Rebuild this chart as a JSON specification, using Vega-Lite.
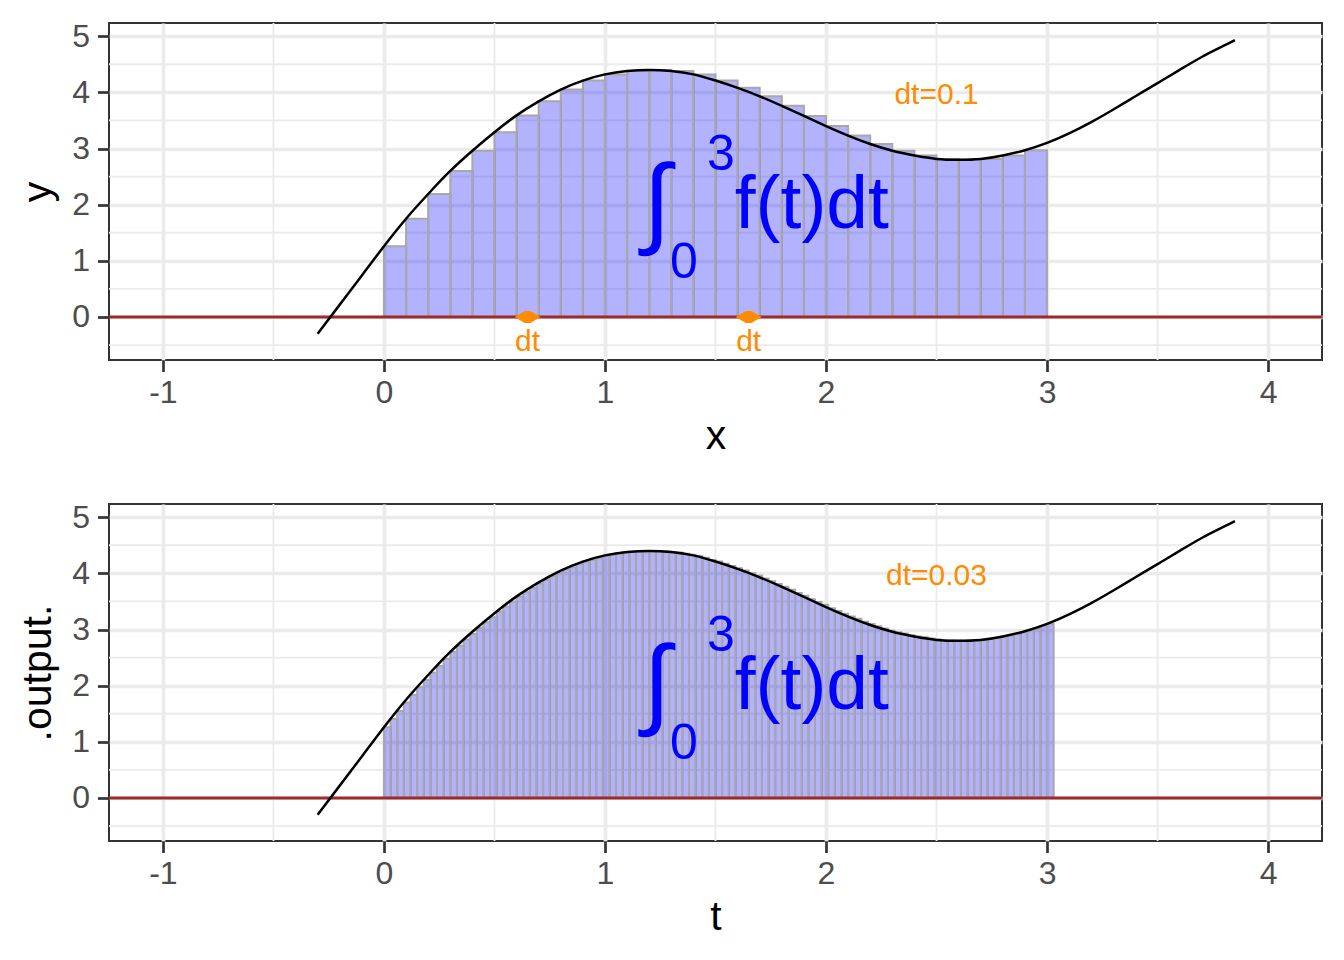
{
  "$schema": "https://vega.github.io/schema/vega-lite/v6.json",
  "padding": {"left": 16, "top": 19, "right": 20, "bottom": 10},
  "spacing": 43,
  "config": {
    "font": "Liberation Sans",
    "view": {"stroke": "#333333", "strokeWidth": 2},
    "axis": {
      "domain": false, "grid": true, "gridColor": "#EBEBEB", "gridWidth": 3.7,
      "ticks": true, "tickColor": "#333333", "tickSize": 11.5, "tickWidth": 2.7,
      "labelFont": "Liberation Sans", "labelFontSize": 32, "labelColor": "#4D4D4D",
      "titleFont": "Liberation Sans", "titleFontSize": 41, "titleFontWeight": "normal", "titleColor": "#000000"
    },
    "axisX": {"labelPadding": 6, "titlePadding": 7.5},
    "axisY": {"labelPadding": 8, "titlePadding": 12}
  },
  "datasets": {
    "minorX": [{"x": -0.5}, {"x": 0.5}, {"x": 1.5}, {"x": 2.5}, {"x": 3.5}],
    "minorY": [{"y": -0.5}, {"y": 0.5}, {"y": 1.5}, {"y": 2.5}, {"y": 3.5}, {"y": 4.5}],
    "curve": [
      {"x": -0.3, "y": -0.3}, {"x": -0.2, "y": 0.22}, {"x": -0.1, "y": 0.74}, {"x": 0, "y": 1.26},
      {"x": 0.1, "y": 1.75}, {"x": 0.2, "y": 2.19}, {"x": 0.3, "y": 2.6}, {"x": 0.4, "y": 2.96},
      {"x": 0.5, "y": 3.29}, {"x": 0.6, "y": 3.59}, {"x": 0.7, "y": 3.84}, {"x": 0.8, "y": 4.05},
      {"x": 0.9, "y": 4.21}, {"x": 1.0, "y": 4.32}, {"x": 1.1, "y": 4.38}, {"x": 1.2, "y": 4.4},
      {"x": 1.3, "y": 4.38}, {"x": 1.4, "y": 4.32}, {"x": 1.5, "y": 4.21}, {"x": 1.6, "y": 4.08},
      {"x": 1.7, "y": 3.93}, {"x": 1.8, "y": 3.76}, {"x": 1.9, "y": 3.58}, {"x": 2.0, "y": 3.4},
      {"x": 2.1, "y": 3.23}, {"x": 2.2, "y": 3.08}, {"x": 2.3, "y": 2.96}, {"x": 2.4, "y": 2.875},
      {"x": 2.5, "y": 2.815}, {"x": 2.6, "y": 2.8}, {"x": 2.7, "y": 2.815}, {"x": 2.8, "y": 2.875},
      {"x": 2.9, "y": 2.97}, {"x": 3.0, "y": 3.1}, {"x": 3.1, "y": 3.27}, {"x": 3.2, "y": 3.47},
      {"x": 3.3, "y": 3.695}, {"x": 3.4, "y": 3.93}, {"x": 3.5, "y": 4.165}, {"x": 3.6, "y": 4.4},
      {"x": 3.7, "y": 4.63}, {"x": 3.8, "y": 4.83}, {"x": 3.85, "y": 4.93}
    ],
    "bars1": [
      {"t": 0, "t_end": 0.1, "f": 1.26}, {"t": 0.1, "t_end": 0.2, "f": 1.75}, {"t": 0.2, "t_end": 0.3, "f": 2.19},
      {"t": 0.3, "t_end": 0.4, "f": 2.6}, {"t": 0.4, "t_end": 0.5, "f": 2.96}, {"t": 0.5, "t_end": 0.6, "f": 3.29},
      {"t": 0.6, "t_end": 0.7, "f": 3.59}, {"t": 0.7, "t_end": 0.8, "f": 3.84}, {"t": 0.8, "t_end": 0.9, "f": 4.05},
      {"t": 0.9, "t_end": 1.0, "f": 4.21}, {"t": 1.0, "t_end": 1.1, "f": 4.32}, {"t": 1.1, "t_end": 1.2, "f": 4.38},
      {"t": 1.2, "t_end": 1.3, "f": 4.4}, {"t": 1.3, "t_end": 1.4, "f": 4.38}, {"t": 1.4, "t_end": 1.5, "f": 4.32},
      {"t": 1.5, "t_end": 1.6, "f": 4.21}, {"t": 1.6, "t_end": 1.7, "f": 4.08}, {"t": 1.7, "t_end": 1.8, "f": 3.93},
      {"t": 1.8, "t_end": 1.9, "f": 3.76}, {"t": 1.9, "t_end": 2.0, "f": 3.58}, {"t": 2.0, "t_end": 2.1, "f": 3.4},
      {"t": 2.1, "t_end": 2.2, "f": 3.23}, {"t": 2.2, "t_end": 2.3, "f": 3.08}, {"t": 2.3, "t_end": 2.4, "f": 2.96},
      {"t": 2.4, "t_end": 2.5, "f": 2.875}, {"t": 2.5, "t_end": 2.6, "f": 2.815}, {"t": 2.6, "t_end": 2.7, "f": 2.8},
      {"t": 2.7, "t_end": 2.8, "f": 2.815}, {"t": 2.8, "t_end": 2.9, "f": 2.875}, {"t": 2.9, "t_end": 3.0, "f": 2.97}
    ],
    "bars2": [
      {"t": 0.00, "t_end": 0.03, "f": 1.26}, {"t": 0.03, "t_end": 0.06, "f": 1.41}, {"t": 0.06, "t_end": 0.09, "f": 1.55},
      {"t": 0.09, "t_end": 0.12, "f": 1.70}, {"t": 0.12, "t_end": 0.15, "f": 1.84}, {"t": 0.15, "t_end": 0.18, "f": 1.97},
      {"t": 0.18, "t_end": 0.21, "f": 2.10}, {"t": 0.21, "t_end": 0.24, "f": 2.23}, {"t": 0.24, "t_end": 0.27, "f": 2.35},
      {"t": 0.27, "t_end": 0.30, "f": 2.48}, {"t": 0.30, "t_end": 0.33, "f": 2.60}, {"t": 0.33, "t_end": 0.36, "f": 2.71},
      {"t": 0.36, "t_end": 0.39, "f": 2.82}, {"t": 0.39, "t_end": 0.42, "f": 2.92}, {"t": 0.42, "t_end": 0.45, "f": 3.03},
      {"t": 0.45, "t_end": 0.48, "f": 3.13}, {"t": 0.48, "t_end": 0.51, "f": 3.22}, {"t": 0.51, "t_end": 0.54, "f": 3.32},
      {"t": 0.54, "t_end": 0.57, "f": 3.41}, {"t": 0.57, "t_end": 0.60, "f": 3.50}, {"t": 0.60, "t_end": 0.63, "f": 3.59},
      {"t": 0.63, "t_end": 0.66, "f": 3.67}, {"t": 0.66, "t_end": 0.69, "f": 3.74}, {"t": 0.69, "t_end": 0.72, "f": 3.82},
      {"t": 0.72, "t_end": 0.75, "f": 3.88}, {"t": 0.75, "t_end": 0.78, "f": 3.95}, {"t": 0.78, "t_end": 0.81, "f": 4.01},
      {"t": 0.81, "t_end": 0.84, "f": 4.07}, {"t": 0.84, "t_end": 0.87, "f": 4.11}, {"t": 0.87, "t_end": 0.90, "f": 4.16},
      {"t": 0.90, "t_end": 0.93, "f": 4.21}, {"t": 0.93, "t_end": 0.96, "f": 4.24}, {"t": 0.96, "t_end": 0.99, "f": 4.28},
      {"t": 0.99, "t_end": 1.02, "f": 4.31}, {"t": 1.02, "t_end": 1.05, "f": 4.33}, {"t": 1.05, "t_end": 1.08, "f": 4.35},
      {"t": 1.08, "t_end": 1.11, "f": 4.37}, {"t": 1.11, "t_end": 1.14, "f": 4.38}, {"t": 1.14, "t_end": 1.17, "f": 4.39},
      {"t": 1.17, "t_end": 1.20, "f": 4.40}, {"t": 1.20, "t_end": 1.23, "f": 4.40}, {"t": 1.23, "t_end": 1.26, "f": 4.40},
      {"t": 1.26, "t_end": 1.29, "f": 4.39}, {"t": 1.29, "t_end": 1.32, "f": 4.38}, {"t": 1.32, "t_end": 1.35, "f": 4.37},
      {"t": 1.35, "t_end": 1.38, "f": 4.35}, {"t": 1.38, "t_end": 1.41, "f": 4.33}, {"t": 1.41, "t_end": 1.44, "f": 4.31},
      {"t": 1.44, "t_end": 1.47, "f": 4.28}, {"t": 1.47, "t_end": 1.50, "f": 4.24}, {"t": 1.50, "t_end": 1.53, "f": 4.21},
      {"t": 1.53, "t_end": 1.56, "f": 4.17}, {"t": 1.56, "t_end": 1.59, "f": 4.13}, {"t": 1.59, "t_end": 1.62, "f": 4.09},
      {"t": 1.62, "t_end": 1.65, "f": 4.05}, {"t": 1.65, "t_end": 1.68, "f": 4.00}, {"t": 1.68, "t_end": 1.71, "f": 3.96},
      {"t": 1.71, "t_end": 1.74, "f": 3.91}, {"t": 1.74, "t_end": 1.77, "f": 3.86}, {"t": 1.77, "t_end": 1.80, "f": 3.81},
      {"t": 1.80, "t_end": 1.83, "f": 3.76}, {"t": 1.83, "t_end": 1.86, "f": 3.71}, {"t": 1.86, "t_end": 1.89, "f": 3.65},
      {"t": 1.89, "t_end": 1.92, "f": 3.60}, {"t": 1.92, "t_end": 1.95, "f": 3.54}, {"t": 1.95, "t_end": 1.98, "f": 3.49},
      {"t": 1.98, "t_end": 2.01, "f": 3.44}, {"t": 2.01, "t_end": 2.04, "f": 3.38}, {"t": 2.04, "t_end": 2.07, "f": 3.33},
      {"t": 2.07, "t_end": 2.10, "f": 3.28}, {"t": 2.10, "t_end": 2.13, "f": 3.23}, {"t": 2.13, "t_end": 2.16, "f": 3.19},
      {"t": 2.16, "t_end": 2.19, "f": 3.14}, {"t": 2.19, "t_end": 2.22, "f": 3.10}, {"t": 2.22, "t_end": 2.25, "f": 3.06},
      {"t": 2.25, "t_end": 2.28, "f": 3.02}, {"t": 2.28, "t_end": 2.31, "f": 2.98}, {"t": 2.31, "t_end": 2.34, "f": 2.95},
      {"t": 2.34, "t_end": 2.37, "f": 2.93}, {"t": 2.37, "t_end": 2.40, "f": 2.90}, {"t": 2.40, "t_end": 2.43, "f": 2.875},
      {"t": 2.43, "t_end": 2.46, "f": 2.86}, {"t": 2.46, "t_end": 2.49, "f": 2.84}, {"t": 2.49, "t_end": 2.52, "f": 2.82},
      {"t": 2.52, "t_end": 2.55, "f": 2.81}, {"t": 2.55, "t_end": 2.58, "f": 2.805}, {"t": 2.58, "t_end": 2.61, "f": 2.80},
      {"t": 2.61, "t_end": 2.64, "f": 2.80}, {"t": 2.64, "t_end": 2.67, "f": 2.80}, {"t": 2.67, "t_end": 2.70, "f": 2.81},
      {"t": 2.70, "t_end": 2.73, "f": 2.815}, {"t": 2.73, "t_end": 2.76, "f": 2.83}, {"t": 2.76, "t_end": 2.79, "f": 2.85},
      {"t": 2.79, "t_end": 2.82, "f": 2.87}, {"t": 2.82, "t_end": 2.85, "f": 2.89}, {"t": 2.85, "t_end": 2.88, "f": 2.92},
      {"t": 2.88, "t_end": 2.91, "f": 2.95}, {"t": 2.91, "t_end": 2.94, "f": 2.98}, {"t": 2.94, "t_end": 2.97, "f": 3.02},
      {"t": 2.97, "t_end": 3.00, "f": 3.06}, {"t": 3.00, "t_end": 3.03, "f": 3.10}
    ]
  },
  "vconcat": [
    {
      "width": 1213,
      "height": 337,
      "layer": [
        {
          "data": {"name": "minorX"},
          "mark": {"type": "rule", "color": "#EBEBEB", "strokeWidth": 1.85},
          "encoding": {
            "x": {"field": "x", "type": "quantitative",
              "scale": {"domain": [-1.244, 4.244], "nice": false, "zero": false},
              "axis": {"values": [-1, 0, 1, 2, 3, 4], "title": "x", "labelExpr": "'' + datum.value"}}
          }
        },
        {
          "data": {"name": "minorY"},
          "mark": {"type": "rule", "color": "#EBEBEB", "strokeWidth": 1.85},
          "encoding": {
            "y": {"field": "y", "type": "quantitative",
              "scale": {"domain": [-0.766, 5.235], "nice": false, "zero": false},
              "axis": {"values": [0, 1, 2, 3, 4, 5], "title": "y", "labelExpr": "'' + datum.value"}}
          }
        },
        {
          "data": {"name": "bars1"},
          "mark": {"type": "rect", "fill": "#0000FF", "fillOpacity": 0.3, "stroke": "#A8A8A8", "strokeWidth": 2},
          "encoding": {
            "x": {"field": "t", "type": "quantitative"},
            "x2": {"field": "t_end"},
            "y": {"field": "f", "type": "quantitative"},
            "y2": {"datum": 0}
          }
        },
        {
          "data": {"values": [{}]},
          "mark": {"type": "rule", "color": "#9E2A2B", "strokeWidth": 3},
          "encoding": {"y": {"datum": 0, "type": "quantitative"}}
        },
        {
          "data": {"name": "curve"},
          "mark": {"type": "line", "color": "#000000", "strokeWidth": 2.5, "interpolate": "natural"},
          "encoding": {
            "x": {"field": "x", "type": "quantitative"},
            "y": {"field": "y", "type": "quantitative"}
          }
        },
        {
          "data": {"values": [{"x": 0.65}, {"x": 1.65}]},
          "mark": {"type": "point", "shape": "M-1,0L-0.22,-0.46L0.22,-0.46L1,0L0.22,0.46L-0.22,0.46Z", "size": 676, "filled": true, "color": "#FF8C00", "opacity": 1, "strokeWidth": 0},
          "encoding": {
            "x": {"field": "x", "type": "quantitative"},
            "y": {"datum": 0, "type": "quantitative"}
          }
        },
        {
          "data": {"values": [{"x": 0.65, "label": "dt"}, {"x": 1.65, "label": "dt"}]},
          "mark": {"type": "text", "color": "#FF8C00", "fontSize": 30, "align": "center", "baseline": "alphabetic"},
          "encoding": {
            "x": {"field": "x", "type": "quantitative"},
            "y": {"datum": -0.6, "type": "quantitative"},
            "text": {"field": "label"}
          }
        },
        {
          "data": {"values": [{"label": "dt=0.1"}]},
          "mark": {"type": "text", "color": "#FF8C00", "fontSize": 30, "align": "center", "baseline": "alphabetic"},
          "encoding": {
            "x": {"datum": 2.5, "type": "quantitative"},
            "y": {"datum": 3.8, "type": "quantitative"},
            "text": {"field": "label"}
          }
        },
        {
          "data": {"values": [{"label": "∫"}]},
          "mark": {"type": "text", "color": "#0000FF", "fontSize": 100, "align": "center", "baseline": "middle"},
          "encoding": {
            "x": {"datum": 1.235, "type": "quantitative"},
            "y": {"datum": 2.0, "type": "quantitative"},
            "text": {"field": "label"}
          }
        },
        {
          "data": {"values": [{"label": "3"}]},
          "mark": {"type": "text", "color": "#0000FF", "fontSize": 50, "align": "left", "baseline": "alphabetic"},
          "encoding": {
            "x": {"datum": 1.462, "type": "quantitative"},
            "y": {"datum": 2.62, "type": "quantitative"},
            "text": {"field": "label"}
          }
        },
        {
          "data": {"values": [{"label": "0"}]},
          "mark": {"type": "text", "color": "#0000FF", "fontSize": 50, "align": "left", "baseline": "alphabetic"},
          "encoding": {
            "x": {"datum": 1.294, "type": "quantitative"},
            "y": {"datum": 0.695, "type": "quantitative"},
            "text": {"field": "label"}
          }
        },
        {
          "data": {"values": [{"label": "f(t)dt"}]},
          "mark": {"type": "text", "color": "#0000FF", "fontSize": 75, "align": "left", "baseline": "alphabetic"},
          "encoding": {
            "x": {"datum": 1.587, "type": "quantitative"},
            "y": {"datum": 1.58, "type": "quantitative"},
            "text": {"field": "label"}
          }
        }
      ]
    },
    {
      "width": 1213,
      "height": 337,
      "layer": [
        {
          "data": {"name": "minorX"},
          "mark": {"type": "rule", "color": "#EBEBEB", "strokeWidth": 1.85},
          "encoding": {
            "x": {"field": "x", "type": "quantitative",
              "scale": {"domain": [-1.244, 4.244], "nice": false, "zero": false},
              "axis": {"values": [-1, 0, 1, 2, 3, 4], "title": "t", "labelExpr": "'' + datum.value"}}
          }
        },
        {
          "data": {"name": "minorY"},
          "mark": {"type": "rule", "color": "#EBEBEB", "strokeWidth": 1.85},
          "encoding": {
            "y": {"field": "y", "type": "quantitative",
              "scale": {"domain": [-0.766, 5.235], "nice": false, "zero": false},
              "axis": {"values": [0, 1, 2, 3, 4, 5], "title": ".output.", "labelExpr": "'' + datum.value"}}
          }
        },
        {
          "data": {"name": "bars2"},
          "mark": {"type": "rect", "fill": "#0000FF", "fillOpacity": 0.3, "stroke": "#A8A8A8", "strokeWidth": 2},
          "encoding": {
            "x": {"field": "t", "type": "quantitative"},
            "x2": {"field": "t_end"},
            "y": {"field": "f", "type": "quantitative"},
            "y2": {"datum": 0}
          }
        },
        {
          "data": {"values": [{}]},
          "mark": {"type": "rule", "color": "#9E2A2B", "strokeWidth": 3},
          "encoding": {"y": {"datum": 0, "type": "quantitative"}}
        },
        {
          "data": {"name": "curve"},
          "mark": {"type": "line", "color": "#000000", "strokeWidth": 2.5, "interpolate": "natural"},
          "encoding": {
            "x": {"field": "x", "type": "quantitative"},
            "y": {"field": "y", "type": "quantitative"}
          }
        },
        {
          "data": {"values": [{"label": "dt=0.03"}]},
          "mark": {"type": "text", "color": "#FF8C00", "fontSize": 30, "align": "center", "baseline": "alphabetic"},
          "encoding": {
            "x": {"datum": 2.5, "type": "quantitative"},
            "y": {"datum": 3.8, "type": "quantitative"},
            "text": {"field": "label"}
          }
        },
        {
          "data": {"values": [{"label": "∫"}]},
          "mark": {"type": "text", "color": "#0000FF", "fontSize": 100, "align": "center", "baseline": "middle"},
          "encoding": {
            "x": {"datum": 1.235, "type": "quantitative"},
            "y": {"datum": 2.0, "type": "quantitative"},
            "text": {"field": "label"}
          }
        },
        {
          "data": {"values": [{"label": "3"}]},
          "mark": {"type": "text", "color": "#0000FF", "fontSize": 50, "align": "left", "baseline": "alphabetic"},
          "encoding": {
            "x": {"datum": 1.462, "type": "quantitative"},
            "y": {"datum": 2.62, "type": "quantitative"},
            "text": {"field": "label"}
          }
        },
        {
          "data": {"values": [{"label": "0"}]},
          "mark": {"type": "text", "color": "#0000FF", "fontSize": 50, "align": "left", "baseline": "alphabetic"},
          "encoding": {
            "x": {"datum": 1.294, "type": "quantitative"},
            "y": {"datum": 0.695, "type": "quantitative"},
            "text": {"field": "label"}
          }
        },
        {
          "data": {"values": [{"label": "f(t)dt"}]},
          "mark": {"type": "text", "color": "#0000FF", "fontSize": 75, "align": "left", "baseline": "alphabetic"},
          "encoding": {
            "x": {"datum": 1.587, "type": "quantitative"},
            "y": {"datum": 1.58, "type": "quantitative"},
            "text": {"field": "label"}
          }
        }
      ]
    }
  ]
}
